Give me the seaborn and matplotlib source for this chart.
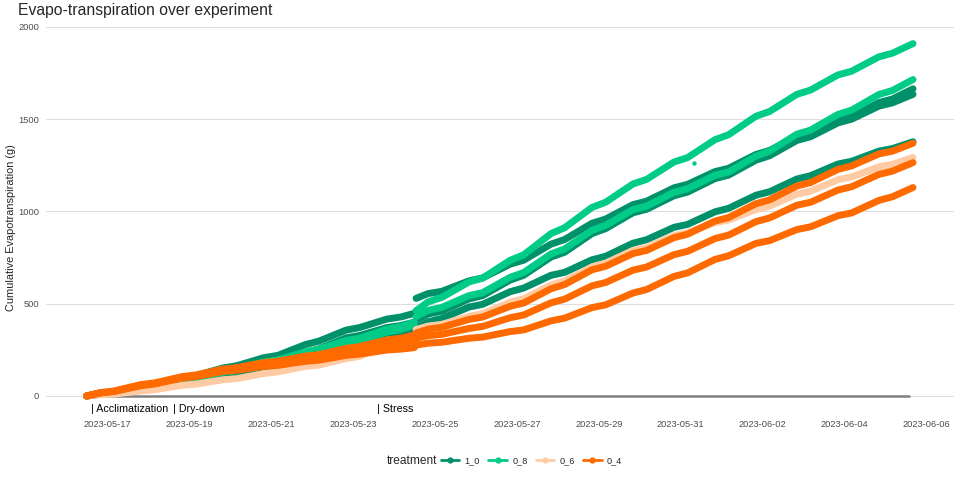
import pandas as pd
import seaborn as sns
import matplotlib.pyplot as plt
from matplotlib.lines import Line2D

# sampling times: evening / early-morning readings, pre-stress and stress periods logged separately
pre_times = ["2023-05-16 12:00",
             "2023-05-16 20:00", "2023-05-17 04:00", "2023-05-17 20:00", "2023-05-18 04:00",
             "2023-05-18 20:00", "2023-05-19 04:00", "2023-05-19 20:00", "2023-05-20 04:00",
             "2023-05-20 20:00", "2023-05-21 04:00", "2023-05-21 20:00", "2023-05-22 04:00",
             "2023-05-22 20:00", "2023-05-23 04:00", "2023-05-23 20:00", "2023-05-24 04:00",
             "2023-05-24 12:00"]
post_times = ["2023-05-24 13:00",
              "2023-05-24 20:00", "2023-05-25 04:00", "2023-05-25 20:00", "2023-05-26 04:00",
              "2023-05-26 20:00", "2023-05-27 04:00", "2023-05-27 20:00", "2023-05-28 04:00",
              "2023-05-28 20:00", "2023-05-29 04:00", "2023-05-29 20:00", "2023-05-30 04:00",
              "2023-05-30 20:00", "2023-05-31 04:00", "2023-05-31 20:00", "2023-06-01 04:00",
              "2023-06-01 20:00", "2023-06-02 04:00", "2023-06-02 20:00", "2023-06-03 04:00",
              "2023-06-03 20:00", "2023-06-04 04:00", "2023-06-04 20:00", "2023-06-05 04:00",
              "2023-06-05 16:00"]

# cumulative ET (g) per plant
et_1_0_a_pre = [0, 15, 22, 54, 63, 100, 110, 152, 164, 208, 220, 278, 297, 357, 371, 417, 428, 448]
et_1_0_a_post = [529, 555, 567, 624, 640, 714, 736, 823, 848, 936, 959, 1037, 1056, 1128, 1147,
                 1216, 1234, 1309, 1331, 1404, 1420, 1492, 1513, 1590, 1610, 1665]
et_1_0_b_pre = [0, 11, 16, 41, 48, 78, 86, 119, 128, 166, 177, 235, 255, 315, 328, 371, 382, 400]
et_1_0_b_post = [410, 444, 460, 526, 544, 628, 654, 753, 779, 880, 907, 993, 1012, 1085, 1105,
                 1178, 1197, 1278, 1302, 1385, 1405, 1480, 1500, 1571, 1589, 1635]
et_1_0_c_pre = [0, 9, 14, 37, 45, 72, 79, 109, 117, 147, 155, 207, 226, 287, 301, 340, 347, 360]
et_1_0_c_post = [368, 402, 420, 482, 497, 565, 585, 654, 670, 738, 757, 828, 847, 914, 930,
                 998, 1017, 1088, 1107, 1176, 1194, 1257, 1272, 1327, 1341, 1378]
et_0_8_a_pre = [0, 13, 19, 48, 56, 91, 101, 138, 148, 185, 195, 239, 253, 301, 313, 362, 376, 400]
et_0_8_a_post = [462, 510, 534, 618, 639, 735, 765, 880, 912, 1022, 1050, 1149, 1174, 1268, 1292,
                 1389, 1416, 1516, 1542, 1635, 1658, 1740, 1760, 1838, 1858, 1910]
et_0_8_b_pre = [0, 12, 18, 45, 53, 86, 94, 129, 138, 176, 186, 230, 243, 288, 300, 347, 361, 385]
et_0_8_b_post = [430, 464, 480, 544, 560, 643, 669, 770, 797, 898, 925, 1010, 1029, 1104, 1124,
                 1196, 1214, 1300, 1327, 1419, 1441, 1526, 1549, 1634, 1656, 1715]
et_0_6_a_pre = [0, 7, 10, 28, 34, 58, 64, 88, 94, 122, 131, 160, 167, 203, 215, 275, 295, 330]
et_0_6_a_post = [360, 379, 388, 432, 446, 508, 527, 602, 623, 700, 720, 789, 805, 869, 885,
                 940, 953, 1011, 1029, 1094, 1110, 1172, 1187, 1242, 1256, 1293]
et_0_4_a_pre = [0, 18, 27, 62, 71, 105, 114, 146, 154, 181, 188, 216, 224, 258, 268, 304, 313, 330]
et_0_4_a_post = [341, 362, 372, 415, 428, 486, 504, 581, 604, 684, 703, 772, 789, 858, 877,
                 948, 967, 1042, 1063, 1138, 1157, 1228, 1247, 1312, 1327, 1370]
et_0_4_b_pre = [0, 17, 25, 59, 68, 101, 110, 140, 147, 172, 178, 201, 208, 238, 247, 278, 286, 300]
et_0_4_b_post = [314, 327, 334, 366, 377, 424, 439, 505, 525, 597, 615, 682, 699, 766, 784,
                 853, 872, 945, 965, 1034, 1050, 1116, 1134, 1201, 1219, 1265]
et_0_4_c_pre = [0, 16, 24, 56, 65, 97, 105, 133, 139, 161, 166, 188, 194, 220, 227, 249, 254, 262]
et_0_4_c_post = [276, 286, 291, 313, 319, 349, 358, 407, 422, 479, 494, 558, 577, 648, 667,
                 740, 760, 827, 842, 902, 917, 977, 992, 1060, 1080, 1130]

outlier_time = ["2023-05-31 08:00"]
outlier_et = [1262]
outlier_treatment = ["0_8"]

baseline_times = ["2023-05-16 11:00", "2023-06-05 13:30"]
baseline_et = [0, 0]

phase_labels = ["| Acclimatization", "| Dry-down", "| Stress"]
phase_starts = ["2023-05-16 14:40", "2023-05-18 14:30", "2023-05-23 14:00"]

treatments = ["1_0", "0_8", "0_6", "0_4"]
colors = ["#00916B", "#00CC88", "#FFCBA4", "#FF6A00"]
tick_dates = ["2023-05-17", "2023-05-19", "2023-05-21", "2023-05-23", "2023-05-25", "2023-05-27",
              "2023-05-29", "2023-05-31", "2023-06-02", "2023-06-04", "2023-06-06"]

plants = [
    ("1_0", "a", et_1_0_a_pre, et_1_0_a_post),
    ("1_0", "b", et_1_0_b_pre, et_1_0_b_post),
    ("1_0", "c", et_1_0_c_pre, et_1_0_c_post),
    ("0_8", "a", et_0_8_a_pre, et_0_8_a_post),
    ("0_8", "b", et_0_8_b_pre, et_0_8_b_post),
    ("0_6", "a", et_0_6_a_pre, et_0_6_a_post),
    ("0_4", "a", et_0_4_a_pre, et_0_4_a_post),
    ("0_4", "b", et_0_4_b_pre, et_0_4_b_post),
    ("0_4", "c", et_0_4_c_pre, et_0_4_c_post),
]

rows = []
for trt, rep, pre, post in plants:
    for seg, times, vals in (("pre", pre_times, pre), ("post", post_times, post)):
        for t, v in zip(times, vals):
            rows.append({"time": pd.Timestamp(t), "et": v, "treatment": trt,
                         "unit": f"{trt}_{rep}_{seg}"})
df = pd.DataFrame(rows)
palette = dict(zip(treatments, colors))

sns.set_style("white")
plt.rcParams["font.family"] = ["Liberation Sans", "DejaVu Sans"]

fig = plt.figure(figsize=(9.6, 4.8), dpi=100)
ax = fig.add_axes([45.5 / 960, 1 - 413.7 / 480, (954 - 45.5) / 960, (413.7 - 25.5) / 480])

ax.plot(pd.to_datetime(baseline_times), baseline_et, color="#7F7F7F", lw=1.8, zorder=1)
sns.lineplot(data=df, x="time", y="et", hue="treatment", units="unit", estimator=None,
             hue_order=treatments, palette=palette, lw=5, sort=False, legend=False,
             solid_capstyle="round", solid_joinstyle="round", ax=ax, zorder=2)
sns.scatterplot(x=pd.to_datetime(outlier_time), y=outlier_et, hue=outlier_treatment,
                palette=palette, s=10, linewidth=0, legend=False, ax=ax, zorder=3)

for lab, start in zip(phase_labels, phase_starts):
    ax.text(pd.Timestamp(start), -70, lab, ha="left", va="center", fontsize=7.7, color="black")

ax.set_xlim(pd.Timestamp("2023-05-15 12:00"), pd.Timestamp("2023-06-06 16:00"))
ax.set_ylim(-96, 2008)
ax.set_yticks([0, 500, 1000, 1500, 2000])
ax.set_xticks(pd.to_datetime(tick_dates))
ax.set_xticklabels(tick_dates)
ax.grid(axis="y", color="#DEDEDE", lw=0.8)
ax.grid(axis="x", visible=False)
ax.set_axisbelow(True)
for s in ax.spines.values():
    s.set_visible(False)
ax.tick_params(axis="both", length=2.5, width=0.6, color="#333333", labelsize=6.7,
               labelcolor="#4D4D4D", pad=2)
ax.set_xlabel("")
ax.set_ylabel("")

fig.text(11 / 960, 1 - 228 / 480, "Cumulative Evapotranspiration (g)", rotation=90,
         ha="center", va="center", fontsize=7.9)
fig.text(18 / 960, 1 - 11 / 480, "Evapo-transpiration over experiment", ha="left",
         va="center", fontsize=11.3)

handles = [Line2D([], [], color=c, lw=2, marker="o", ms=3.5) for c in colors]
fig.text(437 / 960, 1 - 461 / 480, "treatment", ha="right", va="center", fontsize=8.6)
fig.legend(handles, treatments, loc="center left", bbox_to_anchor=(441 / 960, 1 - 461 / 480),
           ncol=4, frameon=False, fontsize=6.6, handlelength=2.0, handletextpad=0.6,
           columnspacing=0.9, borderpad=0, borderaxespad=0)

fig.savefig("out.png", dpi=100)
